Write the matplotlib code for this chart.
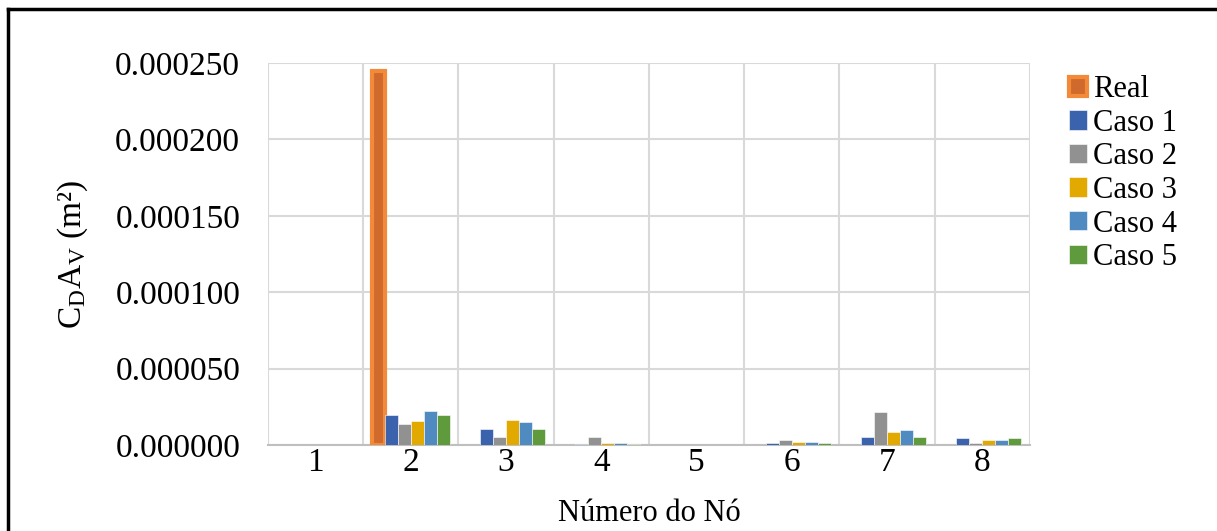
import numpy as np
import matplotlib.pyplot as plt
from matplotlib.lines import Line2D

plt.rcParams['font.family'] = ['Liberation Serif', 'DejaVu Serif']
plt.rcParams['mathtext.fontset'] = 'custom'
plt.rcParams['mathtext.rm'] = 'Liberation Serif'
plt.rcParams['mathtext.it'] = 'Liberation Serif:italic'

nodes = ['1', '2', '3', '4', '5', '6', '7', '8']
real = [0, 0.000245, 0, 0, 0, 0, 0, 0]
caso1 = [0, 0.0000193, 0.0000103, 0.0000007, 0, 0.0000013, 0.0000052, 0.0000044]
caso2 = [0, 0.0000135, 0.0000052, 0.0000052, 0, 0.0000033, 0.0000214, 0.0000013]
caso3 = [0, 0.0000154, 0.0000162, 0.0000013, 0, 0.0000022, 0.0000083, 0.0000031]
caso4 = [0, 0.0000223, 0.0000153, 0.0000013, 0, 0.0000022, 0.0000100, 0.0000031]
caso5 = [0, 0.0000194, 0.0000103, 0.0000007, 0, 0.0000013, 0.0000052, 0.0000044]

casos = [caso1, caso2, caso3, caso4, caso5]
names = ['Caso 1', 'Caso 2', 'Caso 3', 'Caso 4', 'Caso 5']
colors = ['#3B63AD', '#919191', '#E2AA00', '#4F8AC0', '#5F9A3C']

fig = plt.figure(figsize=(12.17, 5.31), dpi=100)
ax = fig.add_axes([0.2202, 0.162, 0.626, 0.7194])

x = np.arange(len(nodes))
w = 0.137

# Real: only draw non-zero bars (glow edge would show zeros as lines)
xr = [x[i] for i in range(len(real)) if real[i] > 0]
yr = [v for v in real if v > 0]
ax.bar(np.array(xr) - 2.5 * w, yr, w, color='#D06A2C', edgecolor='#F28A3A',
       linewidth=3, label='Real', zorder=3)
for i, (vals, nm, c) in enumerate(zip(casos, names, colors)):
    ax.bar(x + (i - 1.5) * w, vals, w, color=c, label=nm, zorder=3,
           edgecolor='white', linewidth=0.4)

ax.set_xlim(-0.5, 7.5)
ax.set_ylim(0, 0.00025)
ax.set_yticks(np.arange(0, 0.00025 + 1e-9, 0.00005))
ax.set_yticklabels(['%.6f' % v for v in np.arange(0, 0.00025 + 1e-9, 0.00005)])
ax.set_xticks(x)
ax.set_xticklabels(nodes)
ax.set_xticks(np.arange(-0.5, 8, 1), minor=True)
ax.tick_params(axis='both', which='both', length=0, labelsize=24)
ax.tick_params(axis='y', pad=20)
ax.tick_params(axis='x', pad=2)
ax.grid(axis='y', which='major', color='#D9D9D9', linewidth=1.5, zorder=0)
ax.grid(axis='x', which='minor', color='#D9D9D9', linewidth=1.5, zorder=0)
for s in ['top', 'right', 'left']:
    ax.spines[s].set_visible(False)
ax.spines['bottom'].set_color('#BFBFBF')
ax.spines['bottom'].set_linewidth(1.5)

ax.set_ylabel(r'$\mathregular{C_DA_V}$ (m²)', fontsize=24, labelpad=18)
ax.set_xlabel('Número do Nó', fontsize=22, labelpad=15)

ax.legend(loc='upper left', bbox_to_anchor=(1.035, 1.0), frameon=False,
          fontsize=22, handlelength=0.6, handleheight=0.6, handletextpad=0.2,
          labelspacing=0.15, borderaxespad=0)

# outer frame (open at right and bottom)
fig.add_artist(Line2D([8 / 1217, 8 / 1217], [0, 1 - 9 / 531], color='black',
                      linewidth=2.5, transform=fig.transFigure))
fig.add_artist(Line2D([8 / 1217, 1], [1 - 9 / 531, 1 - 9 / 531], color='black',
                      linewidth=2.5, transform=fig.transFigure))

fig.savefig('out.png', dpi=100)
